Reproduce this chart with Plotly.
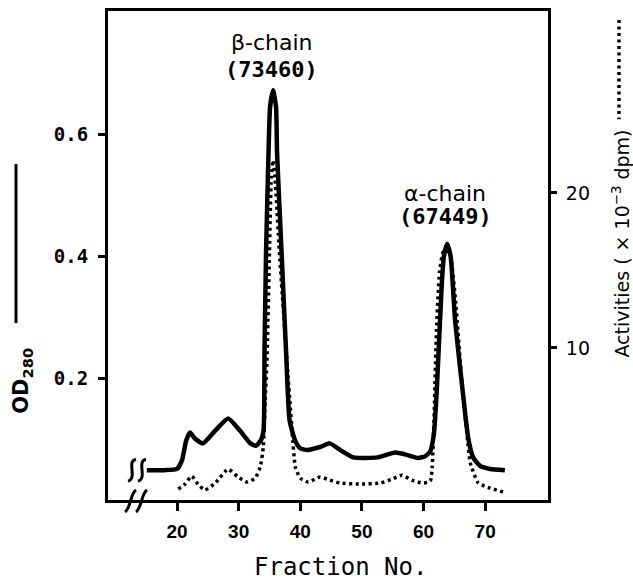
import plotly.graph_objects as go

# ---- data ----
od_fraction = [15.1, 18.0, 20.0, 20.8, 21.5, 22.1, 22.9, 24.2, 26.2, 28.3, 30.2, 31.9, 32.8, 33.6,
               34.04, 34.2, 34.45, 34.85, 35.1, 35.58, 36.07, 36.23, 36.96, 37.69, 38.26, 39.16, 39.97,
               41.1, 43.2, 44.8, 46.5, 48.6, 52.6, 55.4, 57.0, 59.1, 60.3, 61.1, 61.7, 62.17, 62.93,
               63.3, 63.83, 64.4, 65.13, 66.3, 67.24, 68.05, 69.19, 70.8, 73.2]
od280 = [0.049, 0.049, 0.051, 0.065, 0.098, 0.111, 0.101, 0.093, 0.114, 0.134, 0.114, 0.093, 0.089, 0.098,
         0.114, 0.245, 0.408, 0.571, 0.645, 0.673, 0.645, 0.571, 0.408, 0.245, 0.131, 0.098, 0.085,
         0.082, 0.087, 0.093, 0.082, 0.070, 0.070, 0.078, 0.075, 0.069, 0.072, 0.080, 0.110, 0.184, 0.348,
         0.400, 0.421, 0.400, 0.294, 0.184, 0.103, 0.070, 0.056, 0.051, 0.049]

act_fraction = [20.2, 21.3, 22.4, 23.4, 24.5, 26.2, 28.3, 29.9, 31.4, 32.7, 33.5, 34.0, 34.3, 34.6,
                35.0, 35.3, 35.6, 35.9, 36.6, 37.5, 38.3, 38.7, 39.2, 40.0, 41.3, 43.2, 44.8, 46.5,
                49.7, 53.0, 54.9, 56.5, 58.1, 59.9, 61.1, 61.4, 61.7, 62.1, 62.6, 63.2, 63.8, 64.4,
                65.2, 66.2, 67.1, 67.6, 68.9, 70.8, 73.0]
activity = [0.90, 1.22, 1.73, 1.22, 0.83, 1.28, 2.18, 1.67, 1.35, 1.60, 2.31, 3.59, 6.6, 9.17,
            16.2, 21.0, 22.1, 21.0, 16.2, 11.1, 6.6, 4.49, 2.31, 1.60, 1.35, 1.67, 1.47, 1.28,
            1.22, 1.28, 1.54, 1.79, 1.47, 1.28, 1.41, 2.31, 5.32, 11.1, 14.9, 16.2, 16.3, 15.9,
            13.0, 7.9, 4.23, 2.56, 1.28, 0.96, 0.70]

x_ticks = [20, 30, 40, 50, 60, 70]
od_ticks = [0.2, 0.4, 0.6]
od_ticktext = ["0.2", "0.4", "0.6"]
act_ticks = [10, 20]

# ---- geometry helpers (plot area in pixels) ----
W, H = 633, 582
L, R, T, B = 108, 548, 8, 500


def px(x):
    return (x - L) / (R - L)


def py(y):
    return (B - y) / (B - T)


fig = go.Figure()
fig.add_trace(go.Scatter(x=od_fraction, y=od280, mode="lines",
                         line=dict(color="black", width=4.5, shape="spline", smoothing=0.5),
                         showlegend=False, hoverinfo="skip"))
fig.add_trace(go.Scatter(x=act_fraction, y=activity, mode="lines", yaxis="y2",
                         line=dict(color="black", width=3.5, dash="3px,3.5px", shape="spline", smoothing=0.5),
                         showlegend=False, hoverinfo="skip"))

shapes = []
# axis break marks on the x axis "//"
for dx in (0, 11):
    x0 = 125 + dx
    shapes.append(dict(type="path", xref="paper", yref="paper",
                       path=f"M {px(x0)},{py(512)} C {px(x0+6)},{py(508)} {px(x0+5)},{py(494)} {px(x0+11)},{py(490)}",
                       line=dict(color="black", width=3)))
# break marks at the start of the OD curve
for dx in (0, 10):
    x0 = 128 + dx
    shapes.append(dict(type="path", xref="paper", yref="paper",
                       path=f"M {px(x0+8)},{py(459)} C {px(x0-2)},{py(461)} {px(x0+10)},{py(478)} {px(x0)},{py(481)}",
                       line=dict(color="black", width=3)))
# legend key lines next to axis titles
shapes.append(dict(type="line", xref="paper", yref="paper", x0=px(16), x1=px(16), y0=py(162), y1=py(322),
                   line=dict(color="black", width=3)))
shapes.append(dict(type="line", xref="paper", yref="paper", x0=px(619), x1=px(619), y0=py(17), y1=py(117),
                   line=dict(color="black", width=3.5, dash="3px,3.5px")))

annotations = [
    dict(text="β-chain", x=px(272), y=py(40), font=dict(size=22, family="DejaVu Sans")),
    dict(text="(73460)", x=px(271), y=py(67), font=dict(size=22, family="DejaVu Sans Mono", weight="bold")),
    dict(text="α-chain", x=px(445), y=py(192), font=dict(size=22, family="DejaVu Sans")),
    dict(text="(67449)", x=px(445), y=py(215), font=dict(size=22, family="DejaVu Sans Mono", weight="bold")),
    dict(text="Fraction No.", x=px(340), y=py(567), font=dict(size=24, family="DejaVu Sans Mono")),
    dict(text="OD<sub>280</sub>", x=px(22), y=py(380), textangle=-90,
         font=dict(size=21, family="DejaVu Sans", weight="bold")),
    dict(text="Activities ( × 10<sup>−3</sup> dpm)", x=px(621), y=py(242), textangle=-90,
         font=dict(size=19, family="DejaVu Sans")),
]
for a in annotations:
    a.update(xref="paper", yref="paper", showarrow=False, xanchor="center", yanchor="middle",
             font=dict(color="black", **a["font"]))

fig.update_layout(
    width=W, height=H,
    margin=dict(l=L, r=W - R, t=T, b=H - B, pad=0),
    plot_bgcolor="white", paper_bgcolor="white",
    shapes=shapes, annotations=annotations,
    xaxis=dict(range=[8.8, 80.2], tickvals=x_ticks, ticks="outside", ticklen=8, tickwidth=3,
               tickcolor="black", showline=True, linewidth=3, linecolor="black", mirror=True,
               showgrid=False, zeroline=False, ticklabelstandoff=4,
               tickfont=dict(size=19, family="Liberation Sans", color="black", weight="bold")),
    yaxis=dict(range=[0, 0.803], tickvals=od_ticks, ticktext=od_ticktext, ticks="outside", ticklen=7,
               tickwidth=3, tickcolor="black", showline=True, linewidth=3, linecolor="black",
               showgrid=False, zeroline=False, ticklabelstandoff=6,
               tickfont=dict(size=19, family="DejaVu Sans Mono", color="black", weight="bold")),
    yaxis2=dict(range=[0.19, 31.73], tickvals=act_ticks, overlaying="y", side="right", ticks="outside",
                ticklen=6, tickwidth=3, tickcolor="black", showline=True, linewidth=3, linecolor="black",
                showgrid=False, zeroline=False, ticklabelstandoff=5,
                tickfont=dict(size=19, family="DejaVu Sans", color="black")),
)

fig.write_html("out.html", config={"displayModeBar": False},
               post_script="document.body.style.margin='0';document.body.style.overflow='hidden';")
